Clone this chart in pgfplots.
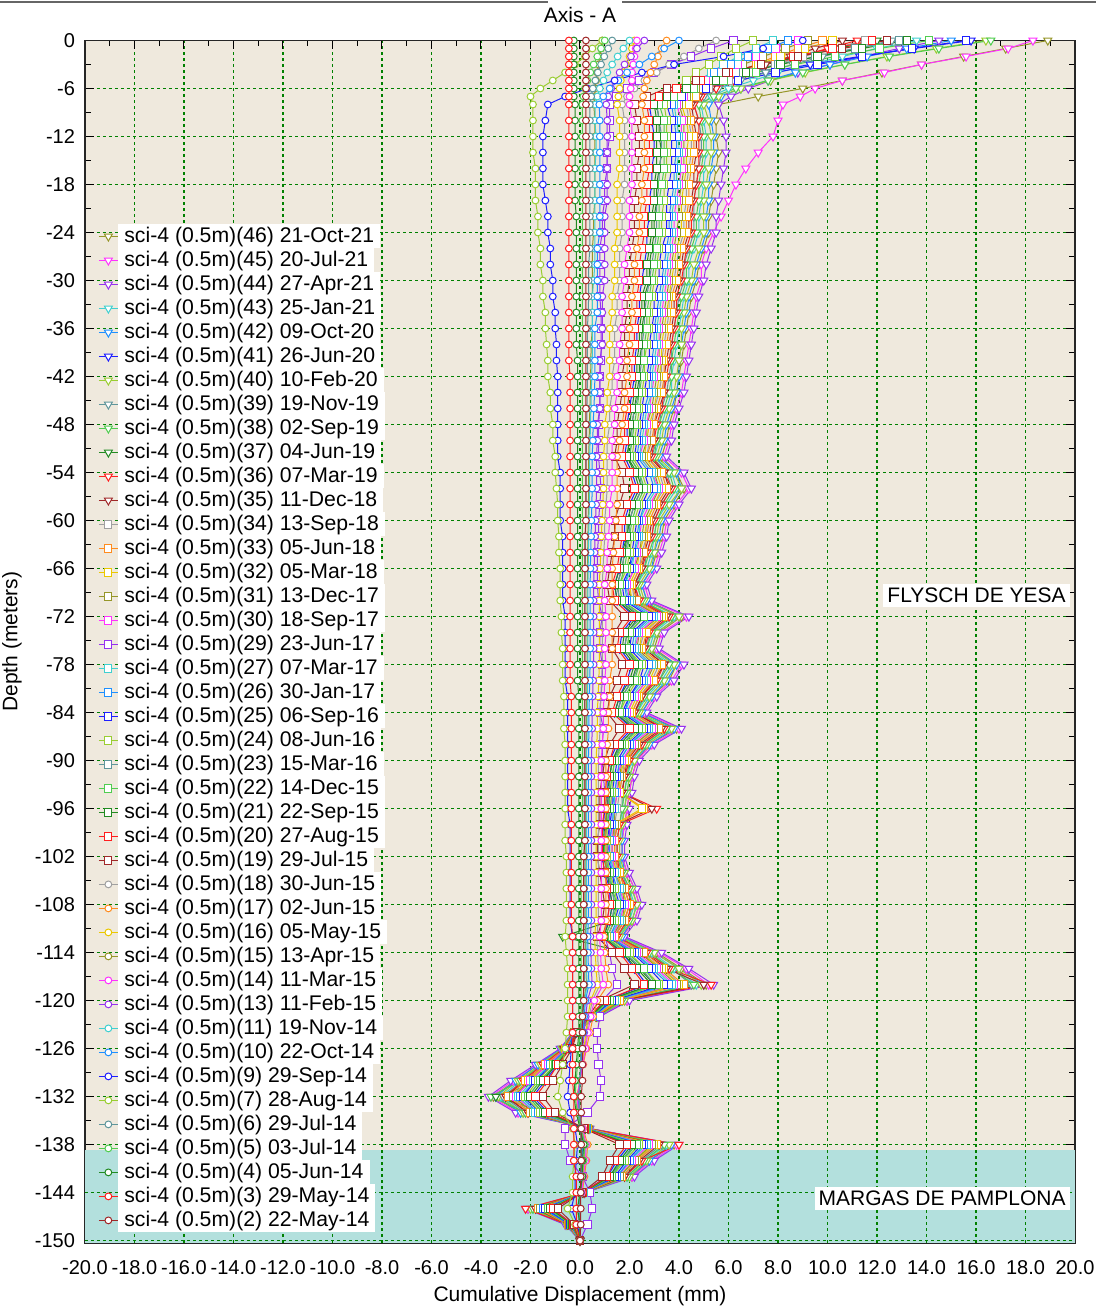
\documentclass[border=0pt]{standalone}
\usepackage{pgfplots}
\pgfplotsset{compat=1.18}
\usepackage{pgfplotstable}
\usepackage{fontspec}
\setmainfont{Liberation Sans}
\definecolor{cDR}{RGB}{160,40,40}
\definecolor{cR}{RGB}{255,30,30}
\definecolor{cDG}{RGB}{34,139,34}
\definecolor{cG}{RGB}{80,205,80}
\definecolor{cCB}{RGB}{95,150,155}
\definecolor{cYG}{RGB}{154,205,50}
\definecolor{cB}{RGB}{30,30,255}
\definecolor{cDB}{RGB}{30,144,255}
\definecolor{cT}{RGB}{64,208,208}
\definecolor{cP}{RGB}{150,50,240}
\definecolor{cM}{RGB}{255,50,255}
\definecolor{cO}{RGB}{150,150,40}
\definecolor{cGo}{RGB}{235,200,0}
\definecolor{cOr}{RGB}{255,140,30}
\definecolor{cGr}{RGB}{160,160,160}
\definecolor{cBeige}{RGB}{239,233,221}
\definecolor{cTeal}{RGB}{179,224,221}
\definecolor{cGrid}{RGB}{0,128,0}

\pgfplotstableread{
d s46 s45 s44 s43 s42 s41 s40 s39 s38 s37 s36 s35 s34 s33 s32 s31 s30 s29 s27 s26 s25 s24 s23 s22 s21 s20 s19 s18 s17 s16 s15 s14 s13 s11 s10 s9 s7 s6 s5 s4 s3 s2
0 18.9 18.3 14.5 13.6 15.0 15.8 16.4 12.6 16.6 12.0 11.2 10.6 11.5 9.8 10.2 9.2 8.8 6.2 7.8 8.4 15.6 7.0 12.9 14.1 13.2 11.8 12.4 5.5 3.5 2.2 0.9 2.3 2.6 2.0 4.0 9.0 0.9 1.3 1.0 -0.25 -0.45 0.24
-1 17.2 17.3 12.9 12.0 13.2 13.5 14.4 11.2 14.5 10.4 10.0 9.5 10.2 8.8 9.1 8.3 7.9 5.3 7.1 7.6 13.4 6.3 11.1 12.1 11.4 10.2 10.6 4.8 3.3 2.1 0.85 2.25 2.3 1.75 3.4 7.4 0.5 1.14 0.85 -0.25 -0.45 0.24
-2 15.5 15.6 11.4 10.6 11.6 11.3 12.4 9.8 12.5 8.9 8.9 8.5 9.0 7.9 8.1 7.4 7.1 4.5 6.4 6.8 11.4 5.7 9.5 10.3 9.6 8.6 8.8 4.2 3.15 2.0 0.8 2.2 2.06 1.52 2.9 5.8 0.2 0.98 0.7 -0.25 -0.45 0.24
-3 13.8 13.8 10.1 9.3 10.1 9.3 10.7 8.6 10.7 7.5 7.9 7.5 7.9 7.1 7.2 6.6 6.4 3.7 5.8 6.1 9.6 5.2 8.0 8.7 8.1 7.3 7.3 3.6 3.0 1.85 0.75 2.15 1.8 1.3 2.4 3.8 -0.2 0.85 0.55 -0.25 -0.45 0.24
-4 12.2 12.3 8.8 8.0 8.7 7.5 9.1 7.5 9.0 6.3 7.0 6.7 6.9 6.3 6.3 5.9 5.7 3.0 5.3 5.4 7.9 4.7 6.6 7.1 6.7 6.0 5.9 3.1 2.85 1.75 0.7 2.1 1.6 1.1 1.9 2.5 -0.6 0.72 0.42 -0.25 -0.45 0.24
-5 10.6 10.6 7.7 7.0 7.6 5.9 7.7 6.5 7.6 5.2 6.2 6.0 6.0 5.7 5.6 5.3 5.1 2.4 4.8 4.8 6.4 4.3 5.5 5.8 5.5 4.9 4.7 2.6 2.7 1.65 0.65 2.1 1.4 0.95 1.55 1.4 -1.1 0.62 0.3 -0.25 -0.45 0.24
-6 9.0 9.5 6.8 6.0 6.5 4.5 6.5 5.6 6.3 4.3 5.5 5.3 5.2 5.1 4.9 4.7 4.5 1.9 4.3 4.3 5.1 3.9 4.4 4.6 4.3 3.9 3.5 2.2 2.6 1.6 0.6 2.05 1.26 0.8 1.2 0.3 -1.6 0.52 0.2 -0.25 -0.45 0.24
-7 7.2 8.9 6.1 5.3 5.7 3.5 5.6 5.0 5.4 3.5 4.9 4.8 4.6 4.7 4.4 4.3 4.2 1.45 4.0 3.9 4.1 3.6 3.6 3.8 3.5 3.2 2.7 1.9 2.55 1.55 0.6 2.0 1.14 0.7 0.94 -0.6 -2.0 0.45 0.14 -0.25 -0.45 0.24
-8 5.6 8.2 5.6 4.9 5.2 2.8 5.0 4.6 4.8 3.1 4.6 4.5 4.3 4.4 4.1 4.0 3.9 1.2 3.8 3.7 3.5 3.4 3.1 3.2 3.0 2.7 2.2 1.7 2.5 1.5 0.56 2.0 1.06 0.62 0.78 -1.3 -1.9 0.4 0.1 -0.2 -0.45 0.24
-10 5.5 8.0 5.8 5.0 5.3 2.9 5.2 4.8 4.9 3.2 4.8 4.6 4.4 4.5 4.3 4.2 4.1 1.2 3.9 3.8 3.7 3.5 3.2 3.4 3.1 2.8 2.3 1.8 2.6 1.6 0.6 2.1 1.1 0.6 0.8 -1.4 -1.9 0.4 0.1 -0.2 -0.45 0.24
-12 5.5 7.8 5.9 5.1 5.4 3.0 5.3 4.9 5.0 3.2 4.8 4.7 4.5 4.6 4.4 4.2 4.1 1.2 4.0 3.9 3.7 3.5 3.3 3.4 3.1 2.8 2.4 1.8 2.6 1.6 0.6 2.1 1.1 0.65 0.8 -1.5 -1.9 0.4 0.1 -0.2 -0.45 0.24
-14 5.6 7.2 5.9 5.1 5.4 3.0 5.3 4.9 5.0 3.3 4.8 4.7 4.5 4.6 4.3 4.2 4.1 1.1 4.0 3.9 3.7 3.5 3.3 3.4 3.1 2.8 2.4 1.8 2.6 1.6 0.6 2.1 1.1 0.65 0.8 -1.5 -1.9 0.4 0.1 -0.2 -0.45 0.24
-16 5.5 6.7 5.8 5.0 5.3 2.9 5.2 4.8 4.9 3.2 4.8 4.6 4.4 4.5 4.3 4.2 4.1 1.1 3.9 3.8 3.7 3.5 3.2 3.4 3.1 2.8 2.3 1.8 2.6 1.6 0.6 2.1 1.1 0.6 0.8 -1.5 -1.8 0.4 0.1 -0.2 -0.45 0.24
-18 5.4 6.3 5.7 5.0 5.2 2.9 5.1 4.7 4.8 3.1 4.7 4.6 4.3 4.4 4.2 4.1 4.0 1.0 3.9 3.8 3.6 3.4 3.2 3.3 3.0 2.7 2.3 1.8 2.5 1.5 0.6 2.1 1.1 0.6 0.8 -1.5 -1.8 0.4 0.1 -0.2 -0.45 0.24
-20 5.3 6.0 5.6 4.9 5.2 2.8 5.0 4.6 4.8 3.1 4.6 4.5 4.3 4.4 4.1 4.0 3.9 1.0 3.8 3.7 3.5 3.4 3.1 3.2 3.0 2.7 2.2 1.7 2.5 1.5 0.6 2.0 1.1 0.6 0.8 -1.4 -1.8 0.4 0.1 -0.2 -0.45 0.24
-22 5.2 5.7 5.5 4.8 5.1 2.8 5.0 4.6 4.7 3.0 4.5 4.4 4.2 4.3 4.1 4.0 3.8 0.9 3.7 3.6 3.5 3.3 3.1 3.2 2.9 2.6 2.2 1.7 2.4 1.5 0.55 2.0 1.0 0.6 0.8 -1.3 -1.7 0.4 0.1 -0.15 -0.45 0.24
-24 5.2 5.4 5.5 4.8 5.1 2.7 5.0 4.6 4.7 3.0 4.5 4.4 4.2 4.3 4.1 3.9 3.8 0.9 3.7 3.6 3.5 3.3 3.1 3.2 2.9 2.6 2.2 1.7 2.4 1.5 0.55 2.0 1.0 0.6 0.8 -1.3 -1.7 0.4 0.1 -0.15 -0.45 0.24
-26 5.0 5.1 5.3 4.6 4.9 2.7 4.8 4.4 4.5 2.9 4.3 4.2 4.0 4.1 3.9 3.8 3.7 0.8 3.6 3.5 3.3 3.2 3.0 3.1 2.8 2.5 2.1 1.6 2.3 1.4 0.5 1.9 1.0 0.6 0.7 -1.2 -1.6 0.4 0.1 -0.15 -0.45 0.24
-28 4.8 4.9 5.1 4.4 4.7 2.6 4.6 4.2 4.3 2.8 4.2 4.1 3.9 4.0 3.8 3.7 3.6 0.8 3.5 3.4 3.2 3.1 2.9 3.0 2.7 2.4 2.0 1.6 2.2 1.4 0.5 1.8 1.0 0.6 0.7 -1.2 -1.6 0.35 0.1 -0.15 -0.45 0.24
-30 4.7 4.9 5.0 4.4 4.6 2.5 4.5 4.2 4.3 2.8 4.1 4.0 3.8 3.9 3.7 3.6 3.5 0.8 3.4 3.3 3.2 3.0 2.8 2.9 2.7 2.4 2.0 1.6 2.2 1.4 0.5 1.8 1.0 0.55 0.7 -1.1 -1.5 0.35 0.1 -0.15 -0.45 0.24
-32 4.5 4.7 4.8 4.2 4.4 2.4 4.3 4.0 4.1 2.6 3.9 3.8 3.6 3.7 3.6 3.5 3.4 0.8 3.3 3.2 3.0 2.9 2.7 2.8 2.5 2.3 1.9 1.5 2.1 1.3 0.5 1.7 0.9 0.5 0.7 -1.1 -1.5 0.35 0.1 -0.15 -0.45 0.24
-34 4.4 4.6 4.7 4.1 4.3 2.4 4.2 3.9 4.0 2.6 3.9 3.8 3.6 3.7 3.5 3.4 3.3 0.85 3.2 3.1 3.0 2.8 2.6 2.7 2.5 2.3 1.9 1.5 2.1 1.3 0.5 1.7 0.9 0.5 0.7 -1.0 -1.4 0.33 0.1 -0.15 -0.45 0.24
-36 4.3 4.5 4.6 4.0 4.2 2.3 4.1 3.8 3.9 2.5 3.8 3.7 3.5 3.6 3.4 3.3 3.2 0.85 3.1 3.0 2.9 2.8 2.6 2.7 2.4 2.2 1.8 1.4 2.0 1.2 0.5 1.7 0.9 0.5 0.6 -1.0 -1.4 0.3 0.1 -0.15 -0.45 0.24
-38 4.2 4.4 4.5 3.9 4.1 2.3 4.1 3.7 3.8 2.5 3.7 3.6 3.4 3.5 3.3 3.2 3.2 0.85 3.1 3.0 2.8 2.7 2.5 2.6 2.4 2.2 1.8 1.4 2.0 1.2 0.45 1.6 0.9 0.5 0.6 -0.95 -1.35 0.3 0.1 -0.15 -0.45 0.24
-40 4.1 4.3 4.4 3.8 4.0 2.2 4.0 3.7 3.7 2.4 3.6 3.5 3.3 3.4 3.3 3.2 3.1 0.85 3.0 2.9 2.8 2.6 2.5 2.6 2.3 2.1 1.8 1.4 1.9 1.2 0.44 1.6 0.8 0.5 0.6 -0.95 -1.3 0.3 0.1 -0.1 -0.45 0.24
-42 4.0 4.2 4.3 3.7 4.0 2.2 3.9 3.6 3.7 2.4 3.5 3.4 3.3 3.4 3.2 3.1 3.0 0.8 2.9 2.8 2.7 2.6 2.4 2.5 2.3 2.1 1.7 1.3 1.9 1.2 0.43 1.5 0.8 0.47 0.6 -0.9 -1.3 0.3 0.1 -0.1 -0.4 0.24
-44 3.9 4.1 4.2 3.7 3.9 2.1 3.8 3.5 3.6 2.3 3.4 3.4 3.2 3.3 3.1 3.0 2.9 0.8 2.9 2.8 2.6 2.5 2.4 2.4 2.2 2.0 1.7 1.3 1.8 1.1 0.42 1.5 0.8 0.46 0.59 -0.9 -1.2 0.29 0.1 -0.1 -0.4 0.24
-46 3.8 3.9 4.0 3.5 3.7 2.0 3.6 3.3 3.4 2.2 3.3 3.2 3.0 3.1 3.0 2.9 2.8 0.8 2.7 2.6 2.5 2.4 2.2 2.3 2.1 1.9 1.6 1.2 1.8 1.1 0.4 1.4 0.8 0.44 0.56 -0.9 -1.2 0.28 0.1 -0.1 -0.4 0.24
-48 3.6 3.7 3.8 3.3 3.5 1.9 3.4 3.2 3.2 2.1 3.1 3.0 2.9 3.0 2.8 2.7 2.7 0.75 2.6 2.5 2.4 2.3 2.1 2.2 2.0 1.8 1.5 1.2 1.7 1.0 0.38 1.4 0.7 0.42 0.53 -0.9 -1.1 0.27 0.1 -0.1 -0.4 0.24
-50 3.5 3.6 3.7 3.2 3.4 1.9 3.3 3.1 3.1 2.0 3.0 3.0 2.8 2.9 2.7 2.7 2.6 0.75 2.5 2.4 2.3 2.2 2.1 2.1 2.0 1.8 1.5 1.1 1.6 1.0 0.37 1.3 0.7 0.41 0.52 -0.9 -1.1 0.26 0.1 -0.1 -0.4 0.24
-52 3.3 3.4 3.5 3.0 3.2 1.8 3.1 2.9 3.0 1.9 2.9 2.8 2.7 2.7 2.6 2.5 2.4 0.75 2.4 2.3 2.2 2.1 2.0 2.0 1.9 1.7 1.4 1.1 1.5 0.95 0.35 1.3 0.67 0.39 0.49 -0.9 -1.0 0.25 0.1 -0.1 -0.4 0.24
-54 3.9 4.1 4.2 3.7 3.9 2.1 3.8 3.5 3.6 2.3 3.4 3.4 3.2 3.3 3.1 3.0 2.9 0.8 2.9 2.8 2.6 2.5 2.4 2.4 2.2 2.0 1.7 1.1 1.5 0.95 0.35 1.3 0.67 0.39 0.49 -0.8 -1.0 0.25 0.1 -0.1 -0.4 0.24
-56 4.2 4.4 4.5 3.9 4.1 2.3 4.1 3.7 3.8 2.5 3.7 3.6 3.4 3.5 3.3 3.2 3.2 0.85 3.1 3.0 2.8 2.7 2.5 2.6 2.4 2.2 1.8 1.1 1.5 0.95 0.35 1.3 0.67 0.39 0.49 -0.8 -0.95 0.25 0.1 -0.1 -0.4 0.24
-58 3.8 3.9 4.0 3.5 3.7 2.0 3.6 3.3 3.4 2.2 3.3 3.2 3.0 3.1 3.0 2.9 2.8 0.8 2.7 2.6 2.5 2.4 2.2 2.3 2.1 1.9 1.6 1.05 1.5 0.92 0.34 1.2 0.65 0.37 0.48 -0.8 -0.9 0.24 0.1 -0.1 -0.4 0.24
-60 3.4 3.5 3.6 3.1 3.3 1.8 3.2 3.0 3.1 2.0 3.0 2.9 2.7 2.8 2.7 2.6 2.5 0.75 2.4 2.4 2.3 2.2 2.0 2.1 1.9 1.7 1.4 1.0 1.45 0.89 0.33 1.2 0.63 0.36 0.46 -0.8 -0.9 0.23 0.1 -0.1 -0.4 0.24
-62 3.3 3.4 3.5 3.0 3.2 1.8 3.1 2.9 3.0 1.9 2.9 2.8 2.7 2.7 2.6 2.5 2.4 0.75 2.4 2.3 2.2 2.1 2.0 2.0 1.9 1.7 1.4 1.0 1.4 0.86 0.32 1.15 0.61 0.35 0.45 -0.7 -0.85 0.22 0.1 -0.1 -0.4 0.2
-64 3.1 3.2 3.3 2.9 3.0 1.7 3.0 2.7 2.8 1.8 2.7 2.6 2.5 2.6 2.4 2.4 2.3 0.7 2.2 2.2 2.1 2.0 1.8 1.9 1.7 1.6 1.3 0.96 1.35 0.84 0.31 1.1 0.59 0.34 0.43 -0.7 -0.85 0.22 0.1 -0.1 -0.4 0.2
-66 2.9 3.0 3.1 2.7 2.9 1.6 2.8 2.6 2.6 1.7 2.5 2.5 2.4 2.4 2.3 2.2 2.2 0.7 2.1 2.0 2.0 1.9 1.7 1.8 1.6 1.5 1.2 0.93 1.3 0.81 0.3 1.1 0.57 0.33 0.42 -0.7 -0.8 0.21 0.1 -0.1 -0.4 0.2
-68 2.5 2.6 2.7 2.3 2.5 1.4 2.4 2.2 2.3 1.5 2.2 2.2 2.1 2.1 2.0 1.9 1.9 0.7 1.8 1.8 1.7 1.6 1.5 1.6 1.4 1.3 1.1 0.9 1.3 0.78 0.29 1.0 0.55 0.32 0.41 -0.7 -0.8 0.2 0.1 -0.1 -0.4 0.2
-70 2.7 2.8 2.9 2.5 2.7 1.5 2.6 2.4 2.5 1.6 2.4 2.3 2.2 2.3 2.1 2.1 2.0 0.75 2.0 1.9 1.8 1.7 1.6 1.7 1.5 1.4 1.2 0.9 1.3 0.78 0.29 1.0 0.55 0.32 0.41 -0.7 -0.8 0.2 0.1 -0.1 -0.4 0.2
-72 4.1 4.3 4.4 3.8 4.0 2.2 4.0 3.7 3.7 2.4 3.6 3.5 3.3 3.4 3.3 3.2 3.1 0.9 3.0 2.9 2.8 2.6 2.5 2.6 2.3 2.1 1.8 0.9 1.3 0.78 0.29 1.05 0.55 0.32 0.41 -0.6 -0.75 0.2 0.1 -0.1 -0.4 0.2
-74 3.2 3.3 3.4 3.0 3.1 1.7 3.1 2.8 2.9 1.9 2.8 2.7 2.6 2.7 2.5 2.4 2.4 0.8 2.3 2.2 2.1 2.0 1.9 2.0 1.8 1.6 1.4 0.9 1.3 0.78 0.29 1.05 0.55 0.32 0.41 -0.6 -0.75 0.2 0.1 -0.1 -0.4 0.2
-76 3.0 3.1 3.2 2.8 2.9 1.6 2.9 2.7 2.7 1.8 2.6 2.6 2.4 2.5 2.4 2.3 2.2 0.8 2.2 2.1 2.0 1.9 1.8 1.9 1.7 1.5 1.3 0.9 1.3 0.78 0.29 1.0 0.55 0.32 0.41 -0.6 -0.7 0.2 0.1 -0.1 -0.4 0.2
-78 3.9 4.1 4.2 3.7 3.9 2.1 3.8 3.5 3.6 2.3 3.4 3.4 3.2 3.3 3.1 3.0 2.9 0.9 2.9 2.8 2.6 2.5 2.4 2.4 2.2 2.0 1.7 0.9 1.3 0.78 0.29 1.05 0.55 0.32 0.41 -0.6 -0.7 0.2 0.1 -0.1 -0.4 0.2
-80 3.6 3.7 3.8 3.3 3.5 1.9 3.4 3.2 3.2 2.1 3.1 3.0 2.9 3.0 2.8 2.7 2.7 0.9 2.6 2.5 2.4 2.3 2.1 2.2 2.0 1.8 1.5 0.87 1.2 0.76 0.28 1.0 0.53 0.31 0.39 -0.6 -0.7 0.2 0.1 -0.1 -0.4 0.2
-82 2.9 3.0 3.1 2.7 2.9 1.6 2.8 2.6 2.6 1.7 2.5 2.5 2.4 2.4 2.3 2.2 2.2 0.85 2.1 2.0 2.0 1.9 1.7 1.8 1.6 1.5 1.2 0.84 1.2 0.73 0.27 0.97 0.51 0.3 0.38 -0.5 -0.65 0.19 0.1 -0.05 -0.35 0.2
-84 2.5 2.6 2.7 2.3 2.5 1.4 2.4 2.2 2.3 1.5 2.2 2.2 2.1 2.1 2.0 1.9 1.9 0.8 1.8 1.8 1.7 1.6 1.5 1.6 1.4 1.3 1.1 0.81 1.15 0.7 0.26 0.94 0.49 0.29 0.36 -0.5 -0.65 0.18 0.1 -0.05 -0.35 0.2
-86 3.9 4.0 4.1 3.6 3.8 2.1 3.7 3.4 3.5 2.3 3.4 3.3 3.1 3.2 3.0 3.0 2.9 0.95 2.8 2.7 2.6 2.5 2.3 2.4 2.2 2.0 1.6 0.81 1.15 0.7 0.26 0.94 0.49 0.29 0.36 -0.5 -0.65 0.18 0.1 -0.05 -0.35 0.2
-88 2.8 2.9 3.0 2.6 2.8 1.5 2.7 2.5 2.6 1.7 2.5 2.4 2.3 2.3 2.2 2.2 2.1 0.9 2.0 2.0 1.9 1.8 1.7 1.7 1.6 1.4 1.2 0.78 1.1 0.68 0.25 0.9 0.48 0.28 0.35 -0.5 -0.6 0.18 0.1 -0.05 -0.35 0.2
-90 2.3 2.3 2.4 2.1 2.2 1.2 2.2 2.0 2.0 1.3 2.0 1.9 1.8 1.9 1.8 1.7 1.7 0.9 1.6 1.6 1.5 1.4 1.3 1.4 1.3 1.2 1.0 0.74 1.05 0.65 0.24 0.86 0.46 0.26 0.34 -0.5 -0.6 0.17 0.1 -0.05 -0.35 0.2
-92 2.1 2.1 2.2 1.9 2.0 1.1 2.0 1.8 1.9 1.2 1.8 1.8 1.7 1.7 1.6 1.6 1.5 0.95 1.5 1.5 1.4 1.3 1.2 1.3 1.2 1.1 0.9 0.74 1.05 0.65 0.24 0.86 0.46 0.26 0.34 -0.5 -0.6 0.17 0.1 -0.05 -0.35 0.2
-94 2.0 2.0 2.1 1.8 1.9 1.1 1.9 1.7 1.8 1.2 1.7 1.7 1.6 1.6 1.6 1.5 1.5 1.0 1.4 1.4 1.3 1.3 1.2 1.2 1.1 1.0 0.8 0.74 1.05 0.65 0.24 0.86 0.46 0.26 0.34 -0.5 -0.6 0.17 0.1 -0.05 -0.35 0.2
-96 1.9 1.9 2.0 1.7 1.8 1.0 1.8 1.7 1.7 1.1 3.1 2.9 1.5 2.6 2.5 1.4 1.4 1.2 1.4 1.3 1.3 1.2 1.1 1.2 1.1 1.0 0.8 0.74 1.05 0.65 0.24 0.86 0.46 0.26 0.34 -0.5 -0.6 0.17 0.1 -0.05 -0.35 0.2
-98 1.8 1.8 1.9 1.7 1.7 0.95 1.7 1.6 1.6 1.05 1.6 1.5 1.4 1.5 1.4 1.4 1.3 1.2 1.3 1.3 1.2 1.1 1.1 1.1 1.0 0.9 0.8 0.74 1.05 0.65 0.24 0.86 0.46 0.26 0.34 -0.4 -0.6 0.17 0.1 -0.05 -0.35 0.2
-100 1.7 1.7 1.8 1.6 1.7 0.9 1.6 1.5 1.5 1.0 1.5 1.4 1.4 1.4 1.3 1.3 1.3 1.2 1.2 1.2 1.1 1.1 1.0 1.0 0.95 0.9 0.7 0.74 1.05 0.65 0.24 0.86 0.46 0.26 0.34 -0.4 -0.6 0.17 0.1 -0.05 -0.35 0.2
-102 1.7 1.7 1.8 1.6 1.7 0.9 1.6 1.5 1.5 1.0 1.5 1.4 1.4 1.4 1.3 1.3 1.3 1.1 1.2 1.2 1.1 1.1 1.0 1.0 0.95 0.9 0.7 0.74 1.05 0.65 0.24 0.86 0.46 0.26 0.34 -0.4 -0.55 0.17 0.05 -0.05 -0.35 0.15
-104 1.9 1.9 2.0 1.7 1.8 1.0 1.8 1.7 1.7 1.1 1.6 1.6 1.5 1.6 1.5 1.4 1.4 1.1 1.4 1.3 1.3 1.2 1.1 1.2 1.1 1.0 0.8 0.74 1.05 0.65 0.24 0.86 0.46 0.26 0.34 -0.4 -0.55 0.17 0.05 -0.05 -0.35 0.15
-106 2.2 2.2 2.3 2.0 2.1 1.2 2.1 1.9 2.0 1.3 1.9 1.8 1.7 1.8 1.7 1.7 1.6 1.2 1.6 1.5 1.4 1.4 1.3 1.3 1.2 1.1 0.9 0.74 1.05 0.65 0.24 0.86 0.46 0.26 0.34 -0.4 -0.55 0.17 0.05 -0.05 -0.35 0.15
-108 2.4 2.4 2.5 2.2 2.3 1.3 2.3 2.1 2.1 1.4 2.1 2.0 1.9 2.0 1.9 1.8 1.8 1.2 1.7 1.7 1.6 1.5 1.4 1.5 1.3 1.2 1.0 0.74 1.05 0.65 0.24 0.86 0.46 0.26 0.34 -0.4 -0.55 0.17 0.05 -0.05 -0.35 0.15
-110 2.2 2.2 2.3 2.0 2.1 1.2 2.1 1.9 2.0 1.3 1.9 1.8 1.7 1.8 1.7 1.7 1.6 1.1 1.6 1.5 1.4 1.4 1.3 1.3 1.2 1.1 0.9 0.74 1.05 0.65 0.24 0.86 0.46 0.26 0.34 -0.4 -0.55 0.17 0.05 -0.05 -0.35 0.15
-112 1.7 1.7 1.8 1.6 1.7 0.9 1.6 1.5 1.5 -0.7 1.5 1.4 1.4 1.4 1.3 1.3 1.3 1.0 1.2 1.2 1.1 1.1 1.0 1.0 0.95 0.9 0.7 0.68 0.97 0.59 0.22 0.79 0.42 0.24 0.31 -0.3 -0.6 0.15 0.05 -0.05 -0.3 0.15
-114 3.1 3.2 3.3 2.9 3.0 1.7 3.0 2.7 2.8 1.8 2.7 2.6 2.5 2.6 2.4 2.4 2.3 1.2 2.2 2.2 2.1 2.0 1.8 1.9 1.7 1.6 1.3 0.71 1.0 0.62 0.23 0.83 0.44 0.25 0.32 -0.3 -0.55 0.16 0.05 -0.05 -0.3 0.15
-116 4.1 4.3 4.4 3.8 4.0 2.2 4.0 3.7 3.7 2.4 3.6 3.5 3.3 3.4 3.3 3.2 3.1 1.3 3.0 2.9 2.8 2.6 2.5 2.6 2.3 2.1 1.8 0.74 1.05 0.65 0.24 0.86 0.46 0.26 0.34 -0.3 -0.5 0.17 0.05 -0.05 -0.3 0.15
-118 5.1 5.2 5.4 4.7 5.0 2.7 4.9 4.5 4.6 3.0 5.3 5.0 4.1 4.2 4.0 3.9 3.8 1.5 3.7 3.6 3.4 3.2 3.0 3.1 2.9 2.6 2.2 0.81 1.14 0.7 0.26 0.94 0.49 0.29 0.36 -0.3 -0.5 0.18 0.05 -0.05 -0.3 0.15
-120 1.9 1.9 2.0 1.7 1.8 1.0 1.8 1.7 1.7 1.1 1.6 1.6 1.5 1.6 1.5 1.4 1.4 0.9 1.4 1.3 1.3 1.2 1.1 1.2 1.1 1.0 0.8 0.5 0.7 0.43 0.16 0.58 0.3 0.18 0.22 -0.3 -0.5 0.11 0.05 -0.05 -0.3 0.15
-122 0.75 0.78 0.8 0.7 0.74 0.4 0.72 0.66 0.68 0.44 0.66 0.64 0.61 0.62 0.59 0.58 0.56 0.8 0.54 0.53 0.5 0.48 0.45 0.46 0.42 0.38 0.32 0.37 0.53 0.32 0.12 0.43 0.23 0.13 0.17 -0.3 -0.5 0.08 0.05 -0.05 -0.3 0.1
-124 -0.28 -0.29 -0.3 -0.26 -0.28 -0.15 -0.27 -0.25 -0.26 -0.17 -0.25 -0.24 -0.23 -0.23 -0.22 -0.22 -0.21 0.7 -0.2 -0.2 -0.19 -0.18 -0.17 -0.17 -0.16 -0.14 -0.12 0.28 0.4 0.24 0.09 0.32 0.17 0.1 0.13 -0.3 -0.55 0.06 0 -0.05 -0.3 0.1
-126 -0.75 -0.78 -0.8 -0.7 -0.74 -0.4 -0.72 -0.66 -0.68 -0.44 -0.66 -0.64 -0.61 -0.62 -0.59 -0.58 -0.56 0.7 -0.54 -0.53 -0.5 -0.48 -0.45 -0.46 -0.42 -0.38 -0.32 0.19 0.26 0.16 0.06 0.22 0.11 0.07 0.08 -0.35 -0.6 0.04 -0.05 -0.1 -0.3 0.1
-128 -1.7 -1.7 -1.8 -1.6 -1.7 -0.9 -1.6 -1.5 -1.5 -1.0 -1.5 -1.4 -1.4 -1.4 -1.3 -1.3 -1.3 0.75 -1.2 -1.2 -1.1 -1.1 -1.0 -1.0 -0.95 -0.9 -0.7 0.09 0.13 0.08 0.03 0.11 0.06 0.03 0.04 -0.4 -0.7 0.02 -0.1 -0.15 -0.3 0.1
-130 -2.6 -2.7 -2.8 -2.4 -2.6 -1.4 -2.5 -2.3 -2.4 -1.5 -2.3 -2.2 -2.1 -2.2 -2.1 -2.0 -2.0 0.85 -1.9 -1.8 -1.8 -1.7 -1.6 -1.6 -1.5 -1.3 -1.1 0 0 0 0 0 0 0 0 -0.45 -0.8 0 -0.15 -0.2 -0.3 0.1
-132 -3.5 -3.6 -3.7 -3.2 -3.4 -1.9 -3.3 -3.1 -3.6 -3.4 -3.0 -3.0 -2.8 -2.9 -2.7 -2.7 -2.6 0.8 -2.5 -2.4 -2.3 -2.2 -2.1 -2.1 -2.0 -1.8 -1.5 -0.09 -0.13 -0.08 -0.03 -0.11 -0.06 -0.03 -0.04 -0.5 -0.9 -0.02 -0.2 -0.25 -0.25 0.05
-134 -2.4 -2.5 -2.6 -2.3 -2.4 -1.3 -2.3 -2.2 -2.2 -1.4 -2.1 -2.1 -2.0 -2.0 -1.9 -1.9 -1.8 0.3 -1.8 -1.7 -1.6 -1.6 -1.5 -1.5 -1.4 -1.2 -1.0 -0.06 -0.09 -0.05 -0.02 -0.07 -0.04 -0.02 -0.03 -0.4 -0.7 -0.01 -0.1 -0.15 -0.25 0.05
-136 0.38 0.39 0.4 0.35 0.37 0.2 0.36 0.33 0.34 0.22 0.33 0.32 0.3 0.31 0.3 0.29 0.28 -0.6 0.27 0.26 0.25 0.24 0.22 0.23 0.21 0.19 0.16 0.09 0.13 0.08 0.03 0.11 0.06 0.03 0.04 -0.2 -0.3 0.02 0.05 0 -0.25 0.05
-138 3.8 3.9 4.0 3.5 3.7 2.0 3.6 3.3 3.4 2.2 4.0 3.2 3.0 3.1 3.0 2.9 2.8 -0.6 2.7 2.6 2.5 2.4 2.2 2.3 2.1 1.9 1.6 0.22 0.31 0.19 0.07 0.25 0.13 0.08 0.1 -0.1 -0.2 0.05 0.2 0.15 -0.25 0.05
-140 2.8 2.9 3.0 2.6 2.8 1.5 2.7 2.5 2.6 1.7 2.5 2.4 2.3 2.3 2.2 2.2 2.1 -0.4 2.0 2.0 1.9 1.8 1.7 1.7 1.6 1.4 1.2 0.19 0.26 0.16 0.06 0.22 0.11 0.07 0.08 -0.15 -0.25 0.04 0.15 0.1 -0.25 0.05
-142 2.1 2.1 2.2 1.9 2.0 1.1 2.0 1.8 1.9 1.2 1.8 1.8 1.7 1.7 1.6 1.6 1.5 0.1 1.5 1.5 1.4 1.3 1.2 1.3 1.2 1.1 0.9 0.12 0.18 0.11 0.04 0.14 0.08 0.04 0.06 -0.2 -0.3 0.03 0.1 0.1 -0.15 0.03
-144 0.19 0.19 0.2 0.17 0.18 0.1 0.18 0.17 0.17 0.11 0.16 0.16 0.15 0.16 0.15 0.14 0.14 0.4 0.14 0.13 0.13 0.12 0.11 0.12 0.11 0.1 0.08 0.06 0.09 0.05 0.02 0.07 0.04 0.02 0.03 -0.2 -0.3 0.01 0 0 -0.15 0.03
-146 -2.1 -2.1 -2.2 -1.9 -2.0 -1.1 -2.0 -1.8 -1.9 -1.2 -2.2 -1.8 -1.7 -1.7 -1.6 -1.6 -1.5 0.5 -1.5 -1.5 -1.4 -1.3 -1.2 -1.3 -1.2 -1.1 -0.9 -0.06 -0.09 -0.05 -0.02 -0.07 -0.04 -0.02 -0.03 -0.35 -0.5 -0.01 -0.1 -0.1 -0.15 0.03
-148 -0.56 -0.58 -0.6 -0.52 -0.55 -0.3 -0.54 -0.5 -0.51 -0.33 -0.49 -0.48 -0.46 -0.47 -0.44 -0.43 -0.42 0.3 -0.41 -0.4 -0.38 -0.36 -0.34 -0.35 -0.32 -0.29 -0.24 -0.03 -0.04 -0.03 -0.01 -0.04 -0.02 -0.01 -0.01 -0.1 -0.2 -0.01 0 0 -0.15 0.03
-150 0 0 0 0 0 0 0 0 0 0 0 0 0 0 0 0 0 0 0 0 0 0 0 0 0 0 0 0 0 0 0 0 0 0 0 0 0 0 0 0 0 0
}\data

\tikzset{gridln/.style={cGrid, dash pattern=on 1.5pt off 1.5pt, line width=0.6pt}}
\pgfplotsset{
  tri/.style={mark=triangle*, mark size=2.3pt, mark options={fill=white, rotate=180, line width=0.5pt, solid}},
  sqr/.style={mark=square*, mark size=1.8pt, mark options={fill=white, line width=0.5pt, solid}},
  cir/.style={mark=*, mark size=1.7pt, mark options={fill=white, line width=0.5pt, solid}},
  legend image code/.code={\draw[mark repeat=2,mark phase=2,#1] plot coordinates {(0cm,0cm) (0.167cm,0cm) (0.334cm,0cm)};},
}
\newcommand{\ser}[4]{\addplot[#2,#3,line width=0.5pt] table[x=s#1,y=d]{\data};\addlegendentry{sci-4 (0.5m)(#1) #4}}

\begin{document}
\begin{tikzpicture}
\path[use as bounding box] (0pt,0pt) rectangle (548pt,653.5pt);
\begin{axis}[
  at={(42.5pt,32pt)}, anchor=south west,
  scale only axis, width=495pt, height=601.25pt,
  xmin=-20, xmax=20, ymin=-150.3, ymax=0,
  axis background/.style={fill=cBeige},
  xtick={-20,-18,...,20},
  xticklabels={-20.0,-18.0,-16.0,-14.0,-12.0,-10.0,-8.0,-6.0,-4.0,-2.0,0.0,2.0,4.0,6.0,8.0,10.0,12.0,14.0,16.0,18.0,20.0},
  ytick={0,-6,...,-150},
  yticklabels={0,-6,-12,-18,-24,-30,-36,-42,-48,-54,-60,-66,-72,-78,-84,-90,-96,-102,-108,-114,-120,-126,-132,-138,-144,-150},
  minor x tick num=1, minor y tick num=1,
  tick align=inside,
  major tick length=4.5pt, minor tick length=3pt,
  tick style={black, line width=0.5pt},
  axis line style={black!85, line width=0.8pt},
  grid=major,
  major grid style={gridln},
  ticklabel style={font=\fontsize{10}{12}\selectfont},
  xticklabel style={anchor=center, yshift=-12.5pt},
  yticklabel style={anchor=east, xshift=-1.5pt},
  xlabel={Cumulative Displacement (mm)},
  xlabel style={at={(axis description cs:0.5,-0.0441)}, anchor=center, yshift=0pt, font=\fontsize{10.5}{12}\selectfont},
  ylabel={Depth (meters)},
  ylabel style={at={(axis description cs:-0.0737,0.5)}, anchor=center, font=\fontsize{10.5}{12}\selectfont},
  legend cell align=left,
  legend style={at={(0.0131,0.8474)}, anchor=north west, draw=none, fill=none,
    font=\fontsize{10.6}{12}\selectfont, row sep=0pt, column sep=0pt, inner sep=0pt,
    nodes={fill=white, inner xsep=3pt, inner ysep=0.5pt, text height=8.6pt, text depth=2.4pt}},
]
\addplot[fill=cTeal, draw=none, forget plot] coordinates {(-20,-138.7) (20,-138.7) (20,-150.3) (-20,-150.3)} -- cycle;
\pgfplotsinvokeforeach{-18,-16,...,18}{\draw[gridln] (axis cs:#1,-138.7) -- (axis cs:#1,-150.3);}
\draw[gridln] (axis cs:-20,-144) -- (axis cs:20,-144);
\draw[gridln] (axis cs:-20,-150) -- (axis cs:20,-150);
\ser{46}{cO}{tri}{21-Oct-21}
\ser{45}{cM}{tri}{20-Jul-21}
\ser{44}{cP}{tri}{27-Apr-21}
\ser{43}{cT}{tri}{25-Jan-21}
\ser{42}{cDB}{tri}{09-Oct-20}
\ser{41}{cB}{tri}{26-Jun-20}
\ser{40}{cYG}{tri}{10-Feb-20}
\ser{39}{cCB}{tri}{19-Nov-19}
\ser{38}{cG}{tri}{02-Sep-19}
\ser{37}{cDG}{tri}{04-Jun-19}
\ser{36}{cR}{tri}{07-Mar-19}
\ser{35}{cDR}{tri}{11-Dec-18}
\ser{34}{cGr}{sqr}{13-Sep-18}
\ser{33}{cOr}{sqr}{05-Jun-18}
\ser{32}{cGo}{sqr}{05-Mar-18}
\ser{31}{cO}{sqr}{13-Dec-17}
\ser{30}{cM}{sqr}{18-Sep-17}
\ser{29}{cP}{sqr}{23-Jun-17}
\ser{27}{cT}{sqr}{07-Mar-17}
\ser{26}{cDB}{sqr}{30-Jan-17}
\ser{25}{cB}{sqr}{06-Sep-16}
\ser{24}{cYG}{sqr}{08-Jun-16}
\ser{23}{cCB}{sqr}{15-Mar-16}
\ser{22}{cG}{sqr}{14-Dec-15}
\ser{21}{cDG}{sqr}{22-Sep-15}
\ser{20}{cR}{sqr}{27-Aug-15}
\ser{19}{cDR}{sqr}{29-Jul-15}
\ser{18}{cGr}{cir}{30-Jun-15}
\ser{17}{cOr}{cir}{02-Jun-15}
\ser{16}{cGo}{cir}{05-May-15}
\ser{15}{cO}{cir}{13-Apr-15}
\ser{14}{cM}{cir}{11-Mar-15}
\ser{13}{cP}{cir}{11-Feb-15}
\ser{11}{cT}{cir}{19-Nov-14}
\ser{10}{cDB}{cir}{22-Oct-14}
\ser{9}{cB}{cir}{29-Sep-14}
\ser{7}{cYG}{cir}{28-Aug-14}
\ser{6}{cCB}{cir}{29-Jul-14}
\ser{5}{cG}{cir}{03-Jul-14}
\ser{4}{cDG}{cir}{05-Jun-14}
\ser{3}{cR}{cir}{29-May-14}
\ser{2}{cDR}{cir}{22-May-14}
\node[fill=white, anchor=east, inner xsep=2pt, inner ysep=2pt, font=\fontsize{10.5}{12}\selectfont] at (axis cs:19.8,-69.4) {FLYSCH DE YESA};
\node[fill=white, anchor=east, inner xsep=2pt, inner ysep=2pt, font=\fontsize{10.5}{12}\selectfont] at (axis cs:19.8,-144.7) {MARGAS DE PAMPLONA};
\end{axis}
\draw[black!60, line width=1pt] (0pt,652.5pt) -- (274pt,652.5pt);
\draw[black!60, line width=1pt] (311pt,652.5pt) -- (548pt,652.5pt);
\node[font=\fontsize{10.5}{12}\selectfont, anchor=center] at (290pt,646pt) {Axis - A};
\end{tikzpicture}
\end{document}
